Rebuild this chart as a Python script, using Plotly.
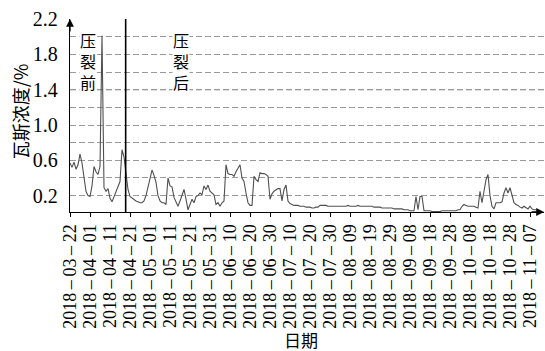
import pandas as pd
import plotly.graph_objects as go

# Daily gas concentration (%) starting 2018-03-22
start_date = "2018-03-22"
gas_pct = [
    0.57, 0.52, 0.58, 0.50, 0.55, 0.67, 0.57, 0.38, 0.25, 0.20,
    0.19, 0.31, 0.53, 0.47, 0.44, 0.53, 2.01, 0.29, 0.25, 0.28,
    0.17, 0.13, 0.19, 0.25, 0.29, 0.36, 0.72, 0.64, 0.45, 0.27,
    0.19, 0.17, 0.16, 0.14, 0.13, 0.12, 0.12, 0.14, 0.20, 0.30,
    0.42, 0.49, 0.43, 0.35, 0.20, 0.14, 0.12, 0.12, 0.10, 0.40,
    0.31, 0.30, 0.18, 0.12, 0.08, 0.14, 0.20, 0.27, 0.16, 0.04,
    0.10, 0.16, 0.12, 0.19, 0.20, 0.23, 0.21, 0.31, 0.27, 0.32,
    0.25, 0.23, 0.21, 0.10, 0.12, 0.08, 0.12, 0.14, 0.55, 0.45,
    0.44, 0.44, 0.42, 0.47, 0.52, 0.55, 0.40, 0.36, 0.23, 0.12,
    0.09, 0.09, 0.42, 0.38, 0.36, 0.46, 0.45, 0.45, 0.44, 0.42,
    0.16, 0.22, 0.25, 0.27, 0.28, 0.28, 0.14, 0.27, 0.32, 0.14,
    0.11, 0.10, 0.09, 0.09, 0.09, 0.08, 0.08, 0.08, 0.07, 0.07,
    0.07, 0.06, 0.06, 0.07, 0.07, 0.09, 0.09, 0.09, 0.09, 0.08,
    0.08, 0.08, 0.08, 0.08, 0.08, 0.08, 0.08, 0.08, 0.08, 0.09,
    0.08, 0.08, 0.08, 0.08, 0.09, 0.08, 0.08, 0.08, 0.08, 0.08,
    0.08, 0.08, 0.07, 0.07, 0.07, 0.07, 0.06, 0.06, 0.06, 0.06,
    0.06, 0.06, 0.05, 0.05, 0.05, 0.05, 0.05, 0.04, 0.04, 0.04,
    0.03, 0.03, 0.03, 0.19, 0.04, 0.19, 0.19, 0.03, 0.03, 0.03,
    0.03, 0.02, 0.02, 0.02, 0.02, 0.02, 0.03, 0.03, 0.03, 0.03,
    0.03, 0.03, 0.03, 0.03, 0.04, 0.04, 0.08, 0.10, 0.09, 0.08,
    0.08, 0.08, 0.08, 0.07, 0.06, 0.25, 0.12, 0.25, 0.38, 0.44,
    0.20, 0.08, 0.05, 0.12, 0.12, 0.12, 0.13, 0.23, 0.29, 0.23,
    0.29, 0.20, 0.12, 0.10, 0.09, 0.07, 0.06, 0.08, 0.06, 0.05,
    0.08, 0.05, 0.04, 0.04,
]
dates = pd.date_range(start_date, periods=len(gas_pct), freq="D")

y_label_vals = [0.2, 0.6, 1.0, 1.4, 1.8, 2.2]
y_minor_vals = [0.4, 0.8, 1.2, 1.6, 2.0]
frac_time = "2018-04-18 20:00"          # fracturing moment
x_end = "2018-11-14"
y_title = "瓦斯浓度/%"
x_title = "日期"
before_text = "压<br>裂<br>前"
after_text = "压<br>裂<br>后"

SERIF = "Liberation Serif"
CJK = "Noto Sans CJK SC"

fig = go.Figure()
fig.add_trace(go.Scatter(
    x=dates, y=gas_pct, mode="lines",
    line=dict(color="#505050", width=1.1),
    showlegend=False, hoverinfo="skip",
))

fig.update_layout(
    width=545, height=351,
    margin=dict(l=70, r=1, t=19, b=139),
    paper_bgcolor="white", plot_bgcolor="white",
    xaxis=dict(
        range=[start_date, x_end],
        tick0=start_date, dtick=10 * 86400000,
        tickformat="%Y\u2009–\u2009%m\u2009–\u2009%d",
        tickangle=-90,
        ticks="outside", ticklen=4, tickcolor="black", tickwidth=1,
        showline=True, linecolor="black", linewidth=1.3,
        showgrid=False, zeroline=False,
        tickfont=dict(family=SERIF, size=18, color="black"),
    ),
    yaxis=dict(
        range=[0.015, 2.2],
        tickvals=y_label_vals,
        ticktext=[f"{v:.1f}" for v in y_label_vals],
        ticks="", ticklabelstandoff=7,
        showline=True, linecolor="black", linewidth=1.3,
        showgrid=True, gridcolor="#9a9a9a", gridwidth=1, griddash="6px,3px",
        minor=dict(tickvals=y_minor_vals, showgrid=True, gridcolor="#9a9a9a",
                   gridwidth=1, griddash="6px,3px"),
        zeroline=False,
        tickfont=dict(family=SERIF, size=20, color="black"),
    ),
)

# darker reference level at 1.4
fig.add_shape(type="line", xref="paper", x0=0, x1=1, yref="y", y0=1.4, y1=1.4,
              line=dict(color="#222222", width=1, dash="6px,3px"), layer="below")

# fracturing divider
fig.add_shape(type="line", xref="x", x0=frac_time, x1=frac_time,
              yref="paper", y0=0, y1=1,
              line=dict(color="black", width=1.6), layer="above")

# stacked vertical labels
for txt, xpos in [(before_text, "2018-03-30 18:00"), (after_text, "2018-05-16 12:00")]:
    fig.add_annotation(x=xpos, y=1.73, xref="x", yref="y", text=txt,
                       xanchor="center", yanchor="middle",
                       showarrow=False, bgcolor="white", borderpad=0,
                       font=dict(family=CJK, size=16, color="black"))

# axis arrows
fig.add_annotation(x=0, y=1, xref="paper", yref="paper", ax=0, ay=14,
                   axref="pixel", ayref="pixel", text="", showarrow=True,
                   arrowhead=2, arrowsize=1.2, arrowwidth=1.3, arrowcolor="black")
fig.add_annotation(x=1, y=0, xref="paper", yref="paper", ax=-14, ay=0,
                   axref="pixel", ayref="pixel", text="", showarrow=True,
                   arrowhead=2, arrowsize=1.2, arrowwidth=1.3, arrowcolor="black")

# axis titles
fig.add_annotation(x=-0.105, y=0.523, xref="paper", yref="paper", text=y_title,
                   textangle=-90, showarrow=False,
                   xanchor="center", yanchor="middle",
                   font=dict(family=CJK, size=18, color="black"))
fig.add_annotation(x=0.487, y=-0.66, xref="paper", yref="paper", text=x_title,
                   xanchor="center", yanchor="middle", borderpad=0,
                   showarrow=False, font=dict(family=CJK, size=17, color="black"))

fig.write_html("out.html")
